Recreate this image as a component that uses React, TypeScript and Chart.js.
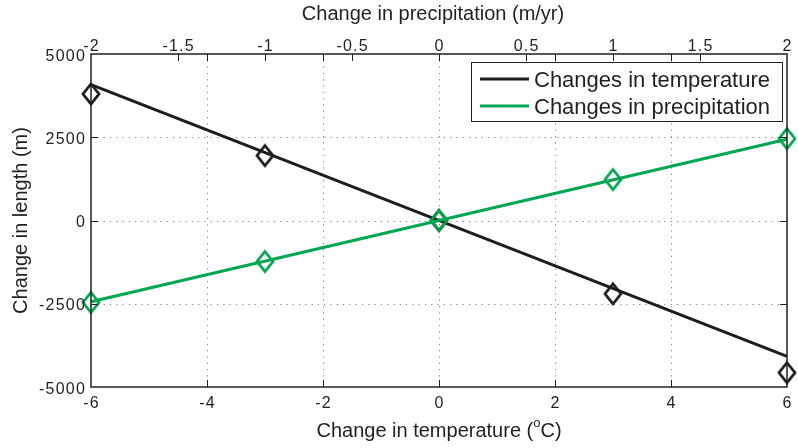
import { useEffect, useRef } from "react";
import { Chart, registerables } from "chart.js";

Chart.register(...registerables);

// Glacier length response to climate perturbations
const tempChange = [-6, -3, 0, 3, 6];
const lengthFromTemp = [3800, 1950, 0, -2200, -4570];
const tempFitEnds = [-6, 6];
const tempFitLength = [4080, -4080];

const precipChange = [-2, -1, 0, 1, 2];
const lengthFromPrecip = [-2460, -1230, 0, 1230, 2460];
const precipFitEnds = [-2, 2];
const precipFitLength = [-2440, 2440];

const tempTicks = [-6, -4, -2, 0, 2, 4, 6];
const precipTicks = [-2, -1.5, -1, -0.5, 0, 0.5, 1, 1.5, 2];
const lengthTicks = [-5000, -2500, 0, 2500, 5000];

const seriesNames = ["Changes in temperature", "Changes in precipitation"];

const BLACK = "#1e1c1d";
const GREEN = "#00a651";
const INK = "#231f20";
const FONT = '"Liberation Sans", Arial, Helvetica, sans-serif';

function diamond(color: string): HTMLCanvasElement {
  const c = document.createElement("canvas");
  c.width = 24;
  c.height = 28;
  const g = c.getContext("2d")!;
  g.strokeStyle = color;
  g.lineWidth = 2.8;
  g.beginPath();
  g.moveTo(12, 4);
  g.lineTo(20, 14);
  g.lineTo(12, 24);
  g.lineTo(4, 14);
  g.closePath();
  g.stroke();
  return c;
}

const zip = (xs: number[], ys: number[]) => xs.map((x, i) => ({ x, y: ys[i] }));

const fmt = (v: number) => String(v);

const axesPlugin = {
  id: "matlabAxes",
  beforeDatasetsDraw(chart: any) {
    const { ctx, chartArea: a, scales } = chart;
    ctx.save();
    ctx.strokeStyle = "#8c8c8c";
    ctx.lineWidth = 1;
    ctx.setLineDash([1.3, 5]);
    for (const t of tempTicks.slice(1, -1)) {
      const x = Math.round(scales.x.getPixelForValue(t)) + 0.5;
      ctx.beginPath();
      ctx.moveTo(x, a.top);
      ctx.lineTo(x, a.bottom);
      ctx.stroke();
    }
    for (const t of lengthTicks.slice(1, -1)) {
      const y = Math.round(scales.y.getPixelForValue(t)) + 0.5;
      ctx.beginPath();
      ctx.moveTo(a.left, y);
      ctx.lineTo(a.right, y);
      ctx.stroke();
    }
    ctx.restore();
  },
  afterDatasetsDraw(chart: any) {
    const { ctx, chartArea: a, scales } = chart;
    ctx.save();

    // axes box
    ctx.strokeStyle = INK;
    ctx.lineWidth = 1.5;
    ctx.strokeRect(a.left, a.top, a.right - a.left, a.bottom - a.top);

    // inward tick marks
    const tl = 7;
    ctx.lineWidth = 1;
    ctx.beginPath();
    for (const t of tempTicks.slice(1, -1)) {
      const x = Math.round(scales.x.getPixelForValue(t)) + 0.5;
      ctx.moveTo(x, a.bottom);
      ctx.lineTo(x, a.bottom - tl);
      ctx.moveTo(x, a.top);
      ctx.lineTo(x, a.top + tl);
    }
    for (const t of precipTicks.slice(1, -1)) {
      const x = Math.round(scales.x2.getPixelForValue(t)) + 0.5;
      ctx.moveTo(x, a.top);
      ctx.lineTo(x, a.top + tl);
    }
    for (const t of lengthTicks.slice(1, -1)) {
      const y = Math.round(scales.y.getPixelForValue(t)) + 0.5;
      ctx.moveTo(a.left, y);
      ctx.lineTo(a.left + tl, y);
      ctx.moveTo(a.right, y);
      ctx.lineTo(a.right - tl, y);
    }
    ctx.stroke();

    // tick labels
    ctx.fillStyle = INK;
    ctx.font = `16px ${FONT}`;
    (ctx as any).letterSpacing = "1.2px";
    ctx.textBaseline = "alphabetic";
    ctx.textAlign = "center";
    for (const t of tempTicks) {
      ctx.fillText(fmt(t), scales.x.getPixelForValue(t) + 0.6, a.bottom + 21);
    }
    for (const t of precipTicks) {
      ctx.fillText(fmt(t), scales.x2.getPixelForValue(t) + 0.6, a.top - 3.5);
    }
    ctx.textAlign = "right";
    for (const t of lengthTicks) {
      ctx.fillText(fmt(t), a.left - 5, scales.y.getPixelForValue(t) + 6.5);
    }
    (ctx as any).letterSpacing = "0px";

    // axis titles
    ctx.font = `20px ${FONT}`;
    ctx.textAlign = "center";
    const cx = (a.left + a.right) / 2;
    ctx.fillText("Change in precipitation (m/yr)", cx - 6, 20);

    const p1 = "Change in temperature (";
    const sup = "o";
    const p2 = "C)";
    ctx.font = `20px ${FONT}`;
    const w1 = ctx.measureText(p1).width;
    const w3 = ctx.measureText(p2).width;
    ctx.font = `13px ${FONT}`;
    const w2 = ctx.measureText(sup).width;
    const total = w1 + w2 + w3;
    let x0 = cx - total / 2;
    const base = a.bottom + 50;
    ctx.textAlign = "left";
    ctx.font = `20px ${FONT}`;
    ctx.fillText(p1, x0, base);
    x0 += w1;
    ctx.font = `13px ${FONT}`;
    ctx.fillText(sup, x0, base - 10);
    x0 += w2;
    ctx.font = `20px ${FONT}`;
    ctx.fillText(p2, x0, base);

    ctx.save();
    ctx.translate(27, (a.top + a.bottom) / 2);
    ctx.rotate(-Math.PI / 2);
    ctx.textAlign = "center";
    ctx.fillText("Change in length (m)", 0, 0);
    ctx.restore();

    // legend
    const lx = a.right - 316;
    const ly = a.top + 8;
    const lw = 311;
    const lh = 59;
    ctx.fillStyle = "#ffffff";
    ctx.fillRect(lx, ly, lw, lh);
    ctx.strokeStyle = INK;
    ctx.lineWidth = 1;
    ctx.strokeRect(lx + 0.5, ly + 0.5, lw, lh);
    const rows = [ly + 17, ly + 44];
    const colors = [BLACK, GREEN];
    ctx.font = `22px ${FONT}`;
    ctx.textAlign = "left";
    rows.forEach((ry, i) => {
      ctx.strokeStyle = colors[i];
      ctx.lineWidth = 3;
      ctx.beginPath();
      ctx.moveTo(lx + 9, ry);
      ctx.lineTo(lx + 58, ry);
      ctx.stroke();
      ctx.fillStyle = INK;
      ctx.fillText(seriesNames[i], lx + 63, ry + 7.5);
    });

    ctx.restore();
  },
};

export default function App() {
  const ref = useRef<HTMLCanvasElement | null>(null);

  useEffect(() => {
    if (!ref.current) return;
    const blackDiamond = diamond(BLACK);
    const greenDiamond = diamond(GREEN);
    const chart = new Chart(ref.current, {
      type: "scatter",
      data: {
        datasets: [
          {
            label: seriesNames[1],
            data: zip(precipChange, lengthFromPrecip),
            xAxisID: "x2",
            showLine: false,
            pointStyle: greenDiamond as any,
            pointRadius: 10,
            clip: false as any,
          },
          {
            label: seriesNames[1] + " fit",
            data: zip(precipFitEnds, precipFitLength),
            xAxisID: "x2",
            showLine: true,
            borderColor: GREEN,
            borderWidth: 3,
            pointRadius: 0,
            clip: false as any,
          },
          {
            label: seriesNames[0],
            data: zip(tempChange, lengthFromTemp),
            xAxisID: "x",
            showLine: false,
            pointStyle: blackDiamond as any,
            pointRadius: 10,
            clip: false as any,
          },
          {
            label: seriesNames[0] + " fit",
            data: zip(tempFitEnds, tempFitLength),
            xAxisID: "x",
            showLine: true,
            borderColor: BLACK,
            borderWidth: 3,
            pointRadius: 0,
            clip: false as any,
          },
        ],
      },
      options: {
        responsive: false,
        animation: false,
        events: [],
        layout: { padding: { left: 91, right: 8, top: 54, bottom: 61 } },
        scales: {
          x: { type: "linear", min: tempTicks[0], max: tempTicks[tempTicks.length - 1], display: false },
          x2: {
            type: "linear",
            axis: "x",
            position: "top",
            min: precipTicks[0],
            max: precipTicks[precipTicks.length - 1],
            display: false,
          },
          y: { type: "linear", min: lengthTicks[0], max: lengthTicks[lengthTicks.length - 1], display: false },
        },
        plugins: { legend: { display: false }, tooltip: { enabled: false } },
      },
      plugins: [axesPlugin],
    });
    return () => chart.destroy();
  }, []);

  return (
    <div style={{ position: "absolute", left: 0, top: 0, width: 798, height: 448, background: "#fff" }}>
      <canvas ref={ref} width={798} height={448} style={{ display: "block" }} />
    </div>
  );
}
